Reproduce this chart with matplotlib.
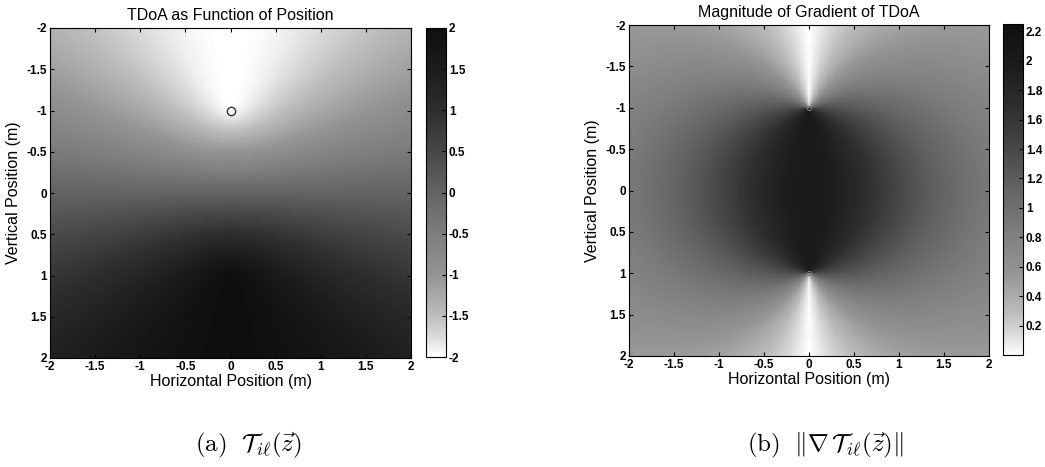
import numpy as np
import matplotlib.pyplot as plt
from matplotlib.colors import ListedColormap

plt.rcParams['font.family'] = ['Liberation Sans', 'DejaVu Sans']
plt.rcParams['axes.unicode_minus'] = False
plt.rcParams['mathtext.fontset'] = 'cm'

# microphone positions (x, y) in metres
mic_a = [0.0, -1.0]
mic_b = [0.0, 1.0]
extent_m = [-2.0, 2.0]
ticks = [-2, -1.5, -1, -0.5, 0, 0.5, 1, 1.5, 2]
cb_ticks_left = [-2, -1.5, -1, -0.5, 0, 0.5, 1, 1.5, 2]
cb_ticks_right = [0.2, 0.4, 0.6, 0.8, 1, 1.2, 1.4, 1.6, 1.8, 2, 2.2]
titles = ['TDoA as Function of Position', 'Magnitude of Gradient of TDoA']
captions = [r'$\mathrm{(a)}\ \ \mathcal{T}_{i\ell}(\vec{z})$',
            r'$\mathrm{(b)}\ \ \|\nabla\,\mathcal{T}_{i\ell}(\vec{z})\|$']

n = 401
g = np.linspace(extent_m[0], extent_m[1], n)
X, Y = np.meshgrid(g, g)
dxa, dya = X - mic_a[0], Y - mic_a[1]
dxb, dyb = X - mic_b[0], Y - mic_b[1]
ra = np.hypot(dxa, dya)
rb = np.hypot(dxb, dyb)
tdoa = ra - rb
with np.errstate(invalid='ignore', divide='ignore'):
    gx = dxa / ra - dxb / rb
    gy = dya / ra - dyb / rb
grad = np.nan_to_num(np.hypot(gx, gy), nan=2.0)

# gray ramp as it came out in the scanned print
cm_pos = [0, 0.06, 0.125, 0.25, 0.375, 0.5, 0.625, 0.75, 0.875, 1]
cm_lvl = [1, 0.86, 0.74, 0.58, 0.49, 0.39, 0.28, 0.18, 0.11, 0.06]
lv = np.interp(np.linspace(0, 1, 256), cm_pos, cm_lvl)
cmap = ListedColormap(np.column_stack([lv, lv, lv]))

fig = plt.figure(figsize=(10.45, 4.67), dpi=100)
W, H = 1045, 467


def px(l, t, r, b):
    return [l / W, 1 - b / H, (r - l) / W, (b - t) / H]


panels = [
    (tdoa, -2, 2, px(50, 28, 411, 358), px(426, 28, 446, 357), cb_ticks_left, 248),
    (grad, 0, 2.25, px(629, 25, 989, 356), px(1003, 24, 1023, 355), cb_ticks_right, 825),
]

for i, (Z, vmin, vmax, apos, cpos, cbt, capx) in enumerate(panels):
    ax = fig.add_axes(apos)
    im = ax.imshow(Z, cmap=cmap, vmin=vmin, vmax=vmax, origin='upper',
                   extent=[extent_m[0], extent_m[1], extent_m[1], extent_m[0]],
                   aspect='auto', interpolation='nearest')
    ax.set_xlim(extent_m)
    ax.set_ylim(extent_m[1], extent_m[0])
    ax.set_xticks(ticks)
    ax.set_yticks(ticks)
    ax.set_xticklabels(['%g' % t for t in ticks], fontsize=8.5, fontweight='bold')
    ax.set_yticklabels(['%g' % t for t in ticks], fontsize=8.5, fontweight='bold')
    ax.tick_params(direction='in', top=True, right=True, length=3, width=0.8, pad=2)
    ax.set_title(titles[i], fontsize=11.5, pad=6)
    ax.set_xlabel('Horizontal Position (m)', fontsize=11.5, labelpad=1)
    ax.set_ylabel('Vertical Position (m)', fontsize=11.5, labelpad=4)
    if i == 0:
        ax.plot(mic_a[0], mic_a[1], 'o', mfc='none', mec='#333333', ms=6, mew=1)
        ax.plot(mic_b[0], mic_b[1], 'o', mfc='none', mec='#111111', ms=6, mew=1)
    else:
        ax.plot([mic_a[0], mic_b[0]], [mic_a[1], mic_b[1]], 'o', mfc='none',
                mec='#777777', ms=3, mew=0.8, ls='none')

    cax = fig.add_axes(cpos)
    cb = fig.colorbar(im, cax=cax, ticks=cbt)
    cb.ax.set_yticklabels(['%g' % t for t in cbt], fontsize=8.5, fontweight='bold')
    cb.ax.tick_params(direction='in', length=3, pad=2)

    fig.text(capx / W, 1 - 445 / H, captions[i], fontsize=18, ha='center', va='center')

fig.savefig('out.png', dpi=100)
